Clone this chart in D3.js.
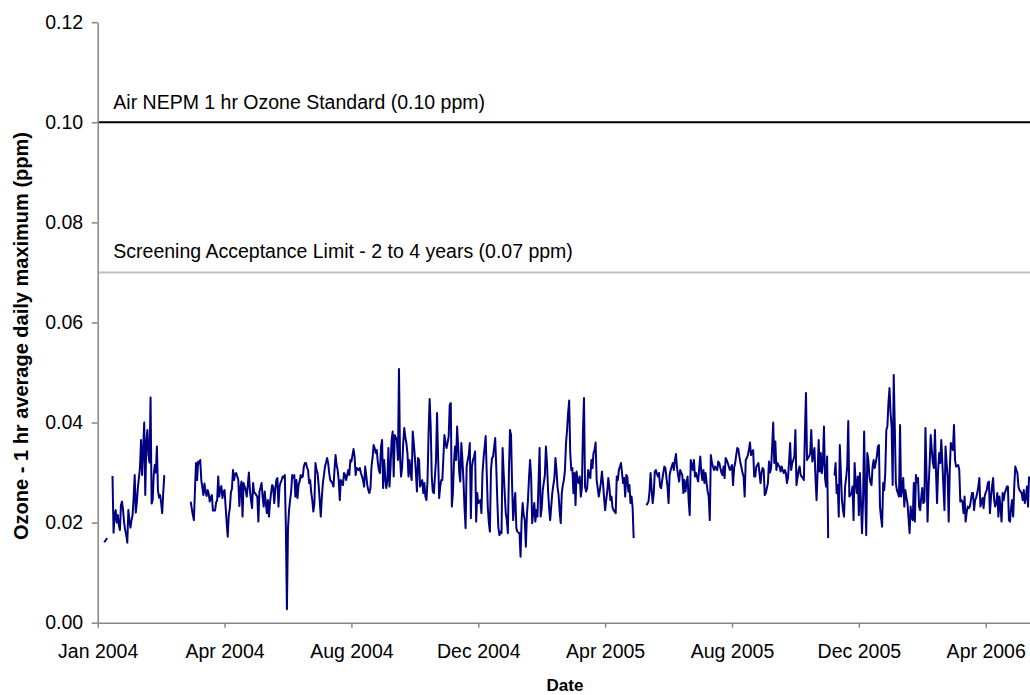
<!DOCTYPE html>
<html>
<head>
<meta charset="utf-8">
<script src="https://cdn.jsdelivr.net/npm/d3@7"></script>
<style>
  html, body { margin: 0; padding: 0; background: #ffffff; }
  svg { display: block; font-family: "Liberation Sans", Arial, sans-serif; }
</style>
</head>
<body>
<svg id="chart" width="1030" height="695"></svg>
<script>
// ---------------- DATA ----------------
// Ozone 1-hr average daily maximum (ppm), daily series split into continuous runs
const segmentStarts = ["2004-01-07", "2004-01-15", "2004-03-29", "2005-06-03", "2005-11-28"];

const seg1 = [.0161, .0163, .0166, .0169];

const seg2 = [.0293,.0180,.0215,.0225,.0200,.0215,.0195,.0185,.0235,.0242,
  .0225,.0200,.0185,.0175,.0160,.0225,.0205,.0190,.0205,.0215,
  .0250,.0295,.0220,.0240,.0270,.0290,.0310,.0365,.0295,.0345,
  .0400,.0255,.0360,.0385,.0335,.0320,.0450,.0238,.0245,.0295,
  .0315,.0300,.0352,.0265,.0250,.0255,.0240,.0219,.0260,.0295];

const seg3 = [
  .0242,.0228,.0215,.0205,.0265,.0319,.0285,.0322,.0318,.0325,
  .0285,.0270,.0255,.0278,.0262,.0253,.0265,.0258,.0242,.0250,
  .0255,.0224,.0224,.0224,.0240,.0245,.0292,.0252,.0268,.0273,
  .0249,.0262,.0265,.0232,.0200,.0172,.0215,.0229,.0260,.0268,
  .0305,.0285,.0298,.0299,.0292,.0285,.0233,.0270,.0282,.0212,
  .0279,.0272,.0265,.0252,.0275,.0300,.0265,.0245,.0229,.0279,
  .0259,
  .0259,.0255,.0252,.0202,.0262,.0270,.0279,.0252,.0232,.0262,
  .0240,.0219,.0245,.0212,.0240,.0259,.0275,.0272,.0239,.0265,
  .0285,.0289,.0232,.0272,.0280,.0285,.0292,.0290,.0295,.0189,
  .0027,.0189,.0225,.0245,.0262,.0295,.0290,.0295,.0252,.0285,
  .0249,.0275,.0282,.0295,.0290,.0292,.0312,.0319,.0319,
  .0310,.0305,.0279,.0285,.0260,.0245,.0222,.0239,.0319,.0305,
  .0299,.0275,.0245,.0212,.0250,.0279,.0295,.0312,.0320,.0329,
  .0319,.0299,.0285,.0282,.0279,.0272,.0305,.0335,.0315,.0305,
  .0285,.0245,.0285,.0280,.0275,.0299,.0295,.0285,.0295,.0305,
  .0295,.0325,.0322,.0335,.0347,.0332,.0295,.0309,.0307,.0305,
  .0309,.0299,.0292,.0285,.0272,.0312,.0295,.0275,.0265,.0259,
  .0269,.0312,.0330,.0355,.0349,.0339,.0345,.0320,.0305,.0299,
  .0352,.0365,.0269,.0325,.0290,.0269,.0285,.0349,.0272,.0310,
  .0365,.0382,.0292,.0375,.0370,.0365,.0325,.0507,.0330,.0292,
  .0312,.0359,.0389,.0370,.0359,.0339,.0292,.0325,.0300,.0285,
  .0382,.0359,.0332,.0300,.0262,.0329,.0325,.0272,.0280,.0285,
  .0259,.0279,
  .0252,.0245,.0285,.0380,.0447,.0392,.0292,.0262,.0259,.0292,
  .0325,.0419,.0332,.0249,.0272,.0285,.0285,.0330,.0375,.0359,
  .0349,.0360,.0372,.0435,.0439,.0232,.0259,.0319,.0352,
  .0325,.0392,.0352,.0300,.0282,.0359,.0325,.0285,.0230,.0189,
  .0312,.0325,.0335,.0359,.0209,.0312,.0325,.0332,.0342,.0202,
  .0259,.0239,.0242,.0245,.0219,.0299,.0329,.0350,.0373,.0299,
  .0232,.0200,.0182,.0305,.0329,.0332,.0350,.0369,.0312,.0245,
  .0190,.0175,.0182,.0179,.0349,.0300,.0259,.0219,.0205,.0179,
  .0300,.0385,.0375,.0275,.0205,.0240,.0259,.0189,.0182,.0180,
  .0179,.0132,.0205,.0239,.0215,.0205,.0152,.0215,.0245,.0290,
  .0325,.0292,.0199,.0220,.0239,.0202,.0225,.0212,.0280,.0349,
  .0212,.0229,.0265,.0280,.0295,.0352,.0319,.0265,.0230,.0205,
  .0232,.0259,.0275,.0289,.0329,.0305,.0270,.0255,.0222,.0199,
  .0259,.0275,.0285,.0305,.0359,.0385,.0420,.0444,.0339,.0305,
  .0309,.0259,.0299,.0235,.0302,.0285,.0279,.0292,.0252,.0270,
  .0380,.0449,
  .0272,.0262,.0269,.0305,.0295,.0289,.0325,.0309,.0339,.0345,
  .0360,.0285,.0269,.0252,.0265,.0280,.0302,.0279,.0250,.0225,
  .0245,.0262,.0289,.0272,.0245,.0252,.0230,.0225,.0222,.0219,
  .0292,.0285,.0305,.0312,.0319,.0299,.0279,.0289,.0252,.0295,
  .0292,.0262,.0275,.0239,.0252,.0230,.0169];

const seg4 = [
  .0235,.0238,.0242,.0262,.0299,.0265,.0239,.0259,.0302,.0305,
  .0298,.0292,.0299,.0272,.0269,.0285,.0299,.0312,.0309,.0290,
  .0272,.0239,.0295,.0305,.0312,.0319,.0305,.0325,.0337,.0310,
  .0295,.0282,.0305,.0300,.0295,.0259,.0285,.0262,.0280,.0292,
  .0245,.0215,.0325,.0315,.0305,.0325,.0292,.0299,.0290,.0282,
  .0309,.0332,.0300,.0285,.0305,.0279,.0299,.0280,.0262,.0252,
  .0205,.0335,.0320,.0312,.0305,.0312,.0308,.0305,.0322,.0319,
  .0309,.0300,.0295,.0312,.0289,.0329,.0325,.0319,.0312,.0305,
  .0310,.0315,.0275,.0309,.0319,.0335,.0349,.0347,.0332,.0319,
  .0310,.0299,.0292,.0252,
  .0325,.0329,.0335,.0345,.0360,.0335,.0340,.0345,.0292,.0292,
  .0312,.0315,.0319,.0299,.0279,.0300,.0309,.0305,.0255,.0259,
  .0269,.0279,.0322,.0300,.0309,.0352,.0400,.0319,.0362,
  .0305,.0319,.0315,.0312,.0302,.0312,.0305,.0299,.0305,.0299,
  .0279,.0290,.0322,.0359,.0305,.0319,.0325,.0332,.0385,.0275,
  .0290,.0305,.0312,.0295,.0292,.0289,.0285,.0379,.0459,.0325,
  .0330,.0332,.0339,.0385,.0322,.0335,.0349,.0289,.0245,.0300,
  .0365,.0302,.0339,.0299,.0320,.0392,.0290,.0272,.0332,.0169];

const seg5 = [
  .0294,.0319,.0259,.0275,.0212,.0355,.0300,.0245,.0225,
  .0212,.0272,.0290,.0312,.0403,.0252,.0255,.0259,.0272,.0205,
  .0319,.0280,.0259,.0292,.0215,.0299,.0240,.0179,.0245,.0382,
  .0260,.0175,.0339,.0325,.0292,.0280,.0275,.0312,.0325,.0309,
  .0320,.0332,.0352,.0355,.0232,.0210,.0192,.0279,.0265,.0300,
  .0385,.0392,.0439,.0469,.0419,.0392,.0275,.0495,.0392,
  .0279,.0265,.0259,.0252,.0395,.0252,.0270,.0289,.0232,.0265,
  .0250,.0239,.0209,.0179,.0232,.0210,.0205,.0279,.0202,.0295,
  .0280,.0289,.0232,.0225,.0250,.0269,.0239,.0242,.0389,.0300,
  .0202,.0272,.0319,.0375,.0345,.0320,.0309,.0385,.0300,.0239,
  .0305,.0339,.0319,.0365,.0320,.0272,.0225,.0352,.0320,.0292,
  .0202,.0305,.0359,.0350,.0345,.0395,.0325,.0312,.0313,.0315,
  .0305,.0242,.0245,.0242,.0219,.0252,.0202,.0220,.0232,.0229,
  .0232,.0245,.0259,.0259,.0225,.0245,.0250,.0259,.0272,.0289,
  .0232,.0240,.0249,.0229,.0252,.0260,.0265,.0279,.0282,.0219,
  .0250,.0272,.0289,.0245,.0232,.0240,.0259,.0212,.0252,.0230,
  .0202,.0259,.0245,.0259,.0265,.0272,.0272,.0205,.0202,.0230,
  .0245,.0212,.0272,.0312,.0305,.0299,.0272,.0265,.0262,.0259,
  .0245,.0265,.0239,.0250,.0272,.0232,.0292];

const segmentValues = [seg1, seg2, seg3, seg4, seg5];

// Axis definitions
const xDomain = ["2004-01-01", "2006-06-01"];
const xTickDates = ["2004-01-01", "2004-04-30", "2004-08-28", "2004-12-26",
                    "2005-04-25", "2005-08-23", "2005-12-21", "2006-04-20"];
const xTickLabels = ["Jan 2004", "Apr 2004", "Aug 2004", "Dec 2004",
                     "Apr 2005", "Aug 2005", "Dec 2005", "Apr 2006"];
const yTicks = [0, 0.02, 0.04, 0.06, 0.08, 0.10, 0.12];
const yDomain = [0, 0.12];

// Reference lines
const refValues = [0.10, 0.07];
const refLabels = ["Air NEPM 1 hr Ozone Standard (0.10 ppm)",
                   "Screening Acceptance Limit - 2 to 4 years (0.07 ppm)"];
const refColors = ["#000000", "#c0c0c0"];

const yTitle = "Ozone - 1 hr average daily maximum (ppm)";
const xTitle = "Date";

// ---------------- CHART ----------------
const parse = d3.utcParse("%Y-%m-%d");
const svg = d3.select("#chart");

const plotLeft = 97.7, plotRight = 1030.1, plotTop = 22.2, plotBottom = 622.7;

const x = d3.scaleUtc().domain(xDomain.map(parse)).range([plotLeft, plotRight]);
const y = d3.scaleLinear().domain(yDomain).range([plotBottom, plotTop]);

const fontSize = 19.5;
const axisColor = "#868686";

// Reference lines
refValues.forEach((v, i) => {
  svg.append("line")
    .attr("x1", plotLeft).attr("x2", 1030)
    .attr("y1", y(v)).attr("y2", y(v))
    .attr("stroke", refColors[i]).attr("stroke-width", 2);
  svg.append("text")
    .attr("x", plotLeft + 15.6)
    .attr("y", y(v) - (i === 0 ? 13 : 14.2))
    .attr("font-size", fontSize)
    .attr("fill", "#000")
    .text(refLabels[i]);
});

// Data lines
const line = d3.line()
  .x(d => x(d.date))
  .y(d => y(d.value));

segmentValues.forEach((vals, si) => {
  const start = parse(segmentStarts[si]);
  const pts = vals.map((v, i) => ({ date: d3.utcDay.offset(start, i), value: v }));
  svg.append("path")
    .datum(pts)
    .attr("d", line)
    .attr("fill", "none")
    .attr("stroke", "#000080")
    .attr("stroke-width", 2)
    .attr("stroke-linejoin", "round");
});

// Y axis
const yAxis = d3.axisLeft(y)
  .tickValues(yTicks)
  .tickFormat(d3.format(".2f"))
  .tickSize(6)
  .tickSizeOuter(0)
  .tickPadding(8.5);
const gy = svg.append("g").attr("transform", `translate(${plotLeft},0)`).call(yAxis);
gy.select(".domain").attr("stroke", axisColor).attr("stroke-width", 1.5);
gy.selectAll(".tick line").attr("stroke", axisColor).attr("stroke-width", 1.5);
gy.selectAll(".tick text").attr("font-size", fontSize).attr("fill", "#000")
  .attr("font-family", "Liberation Sans, Arial, sans-serif");

// X axis
const xTickMap = new Map(xTickDates.map((d, i) => [parse(d).getTime(), xTickLabels[i]]));
const xAxis = d3.axisBottom(x)
  .tickValues(xTickDates.map(parse))
  .tickFormat(d => xTickMap.get(d.getTime()))
  .tickSize(5)
  .tickSizeOuter(0);
const gx = svg.append("g").attr("transform", `translate(0,${plotBottom})`).call(xAxis);
gx.select(".domain").attr("stroke", axisColor).attr("stroke-width", 1.5);
gx.selectAll(".tick line").attr("stroke", axisColor).attr("stroke-width", 1.5);
gx.selectAll(".tick text")
  .attr("font-size", fontSize).attr("fill", "#000")
  .attr("font-family", "Liberation Sans, Arial, sans-serif")
  .attr("y", 35.5).attr("dy", 0);

// Axis titles
svg.append("text")
  .attr("transform", `translate(27.5,336) rotate(-90)`)
  .attr("text-anchor", "middle")
  .attr("font-size", 20)
  .attr("font-weight", "bold")
  .attr("fill", "#000")
  .text(yTitle);

svg.append("text")
  .attr("x", 565)
  .attr("y", 691)
  .attr("text-anchor", "middle")
  .attr("font-size", 17)
  .attr("font-weight", "bold")
  .attr("fill", "#000")
  .text(xTitle);
</script>
</body>
</html>
